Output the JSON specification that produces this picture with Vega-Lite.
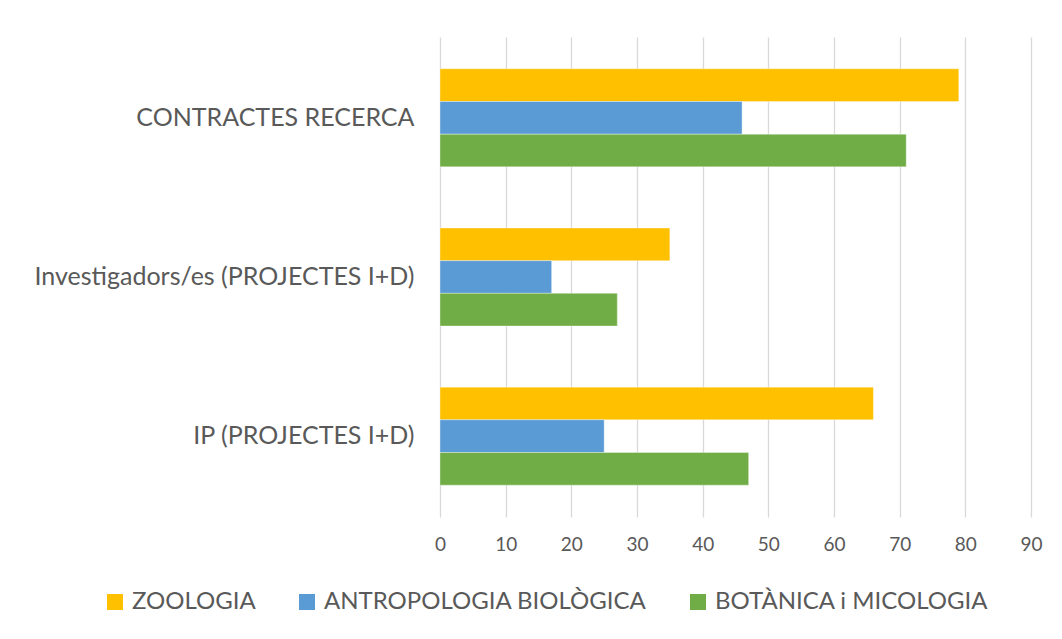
{
  "$schema": "https://vega.github.io/schema/vega-lite/v6.json",
  "width": 591,
  "height": 480,
  "autosize": "none",
  "padding": {"left": 440, "top": 37, "right": 31, "bottom": 122},
  "background": "white",
  "data": {
    "values": [
      {"cat": "CONTRACTES RECERCA", "serie": "ZOOLOGIA", "v": 79},
      {"cat": "CONTRACTES RECERCA", "serie": "ANTROPOLOGIA BIOLÒGICA", "v": 46},
      {"cat": "CONTRACTES RECERCA", "serie": "BOTÀNICA i MICOLOGIA", "v": 71},
      {"cat": "Investigadors/es (PROJECTES I+D)", "serie": "ZOOLOGIA", "v": 35},
      {"cat": "Investigadors/es (PROJECTES I+D)", "serie": "ANTROPOLOGIA BIOLÒGICA", "v": 17},
      {"cat": "Investigadors/es (PROJECTES I+D)", "serie": "BOTÀNICA i MICOLOGIA", "v": 27},
      {"cat": "IP (PROJECTES I+D)", "serie": "ZOOLOGIA", "v": 66},
      {"cat": "IP (PROJECTES I+D)", "serie": "ANTROPOLOGIA BIOLÒGICA", "v": 25},
      {"cat": "IP (PROJECTES I+D)", "serie": "BOTÀNICA i MICOLOGIA", "v": 47}
    ]
  },
  "mark": {"type": "bar", "stroke": "white", "strokeOpacity": 0.35, "strokeWidth": 1},
  "encoding": {
    "y": {
      "field": "cat", "type": "nominal",
      "sort": ["CONTRACTES RECERCA", "Investigadors/es (PROJECTES I+D)", "IP (PROJECTES I+D)"],
      "scale": {"paddingInner": 0.384, "paddingOuter": 0.2},
      "axis": {"title": null, "ticks": false, "domain": false, "labelPadding": 26, "labelFontSize": 25, "labelColor": "#595959", "labelFont": "Lato", "labelLimit": 500}
    },
    "yOffset": {
      "field": "serie", "type": "nominal",
      "sort": ["ZOOLOGIA", "ANTROPOLOGIA BIOLÒGICA", "BOTÀNICA i MICOLOGIA"],
      "scale": {"paddingInner": 0, "paddingOuter": 0}
    },
    "x": {
      "field": "v", "type": "quantitative",
      "scale": {"domain": [0, 90], "nice": false},
      "axis": {"title": null, "values": [0,10,20,30,40,50,60,70,80,90], "labelOverlap": false, "labelFlush": false, "ticks": false, "domain": false, "grid": true, "gridColor": "#d9d9d9", "gridWidth": 1.3, "labelPadding": 18, "labelFontSize": 19, "labelColor": "#595959", "labelFont": "Lato"}
    },
    "color": {
      "field": "serie", "type": "nominal",
      "sort": ["ZOOLOGIA", "ANTROPOLOGIA BIOLÒGICA", "BOTÀNICA i MICOLOGIA"],
      "scale": {"domain": ["ZOOLOGIA", "ANTROPOLOGIA BIOLÒGICA", "BOTÀNICA i MICOLOGIA"], "range": ["#FFC000", "#5B9BD5", "#70AD47"]},
      "legend": {
        "title": null, "orient": "none", "direction": "horizontal", "columns": 3,
        "legendX": -337, "legendY": 553,
        "symbolType": "square", "symbolSize": 256, "symbolStrokeWidth": 0, "symbolOpacity": 1,
        "labelFontSize": 24, "labelColor": "#595959", "labelFont": "Lato", "labelLimit": 400,
        "columnPadding": 39, "labelOffset": 5
      }
    }
  },
  "config": {"view": {"stroke": null}}
}
